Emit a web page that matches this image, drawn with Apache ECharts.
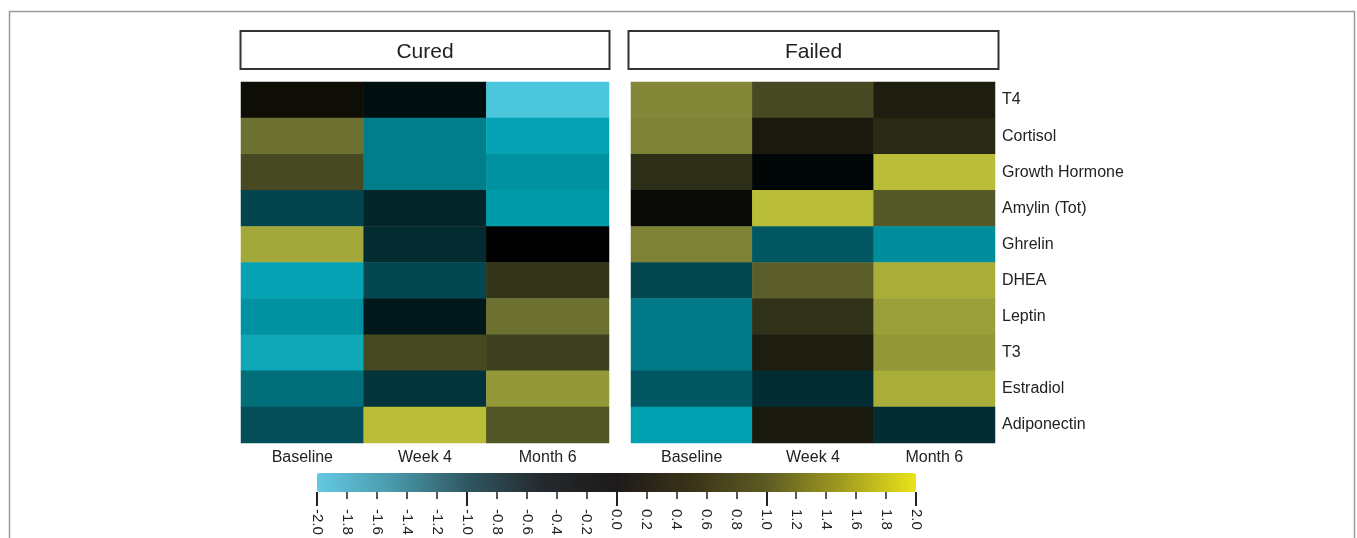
<!DOCTYPE html>
<html>
<head>
<meta charset="utf-8">
<script src="https://cdn.jsdelivr.net/npm/echarts@6/dist/echarts.min.js"></script>
<style>
  html, body { margin: 0; padding: 0; background: #fff; }
  #chart { width: 1357px; height: 538px; }
</style>
</head>
<body>
<div id="chart"></div>
<script>
// Hormone z-scores by timepoint, cured vs failed groups
const timepoints = ['Baseline', 'Week 4', 'Month 6'];
const hormones = ['T4', 'Cortisol', 'Growth Hormone', 'Amylin (Tot)', 'Ghrelin',
                  'DHEA', 'Leptin', 'T3', 'Estradiol', 'Adiponectin'];
const groups = ['Cured', 'Failed'];

// one row per hormone: [Baseline, Week 4, Month 6]
const curedValues = [
  [0.12, -0.15, -2.0],
  [1.0, -1.25, -1.62],
  [0.65, -1.25, -1.45],
  [-0.72, -0.38, -1.55],
  [1.6, -0.45, 0.0],
  [-1.62, -0.75, 0.45],
  [-1.45, -0.25, 1.0],
  [-1.68, 0.65, 0.55],
  [-1.1, -0.55, 1.4],
  [-0.82, 1.95, 0.78]
];
const failedValues = [
  [1.2, 0.65, 0.25],
  [1.15, 0.22, 0.35],
  [0.38, -0.05, 1.95],
  [0.08, 1.95, 0.8],
  [1.15, -0.9, -1.4],
  [-0.75, 0.85, 1.7],
  [-1.2, 0.42, 1.5],
  [-1.2, 0.25, 1.4],
  [-0.9, -0.47, 1.7],
  [-1.6, 0.22, -0.47]
];

const scaleMin = -2, scaleMax = 2;

const cellColors = ['#4cc6dc', '#00a0b0', '#007a86', '#034c56', '#03262b', '#000000',
                    '#2e3018', '#555828', '#838838', '#a2a83a', '#bcc038'];
const barColors = ['#63c9e2', '#4a9aab', '#2f5862', '#24292d', '#1e1a1a',
                   '#3a3318', '#5d5b22', '#a09b1f', '#ebe41a'];

function toCells(rows) {
  const out = [];
  rows.forEach((row, r) => row.forEach((v, c) => out.push([c, r, v])));
  return out;
}

const FONT = '"Liberation Sans", Arial, sans-serif';
const TXT = '#222';

const chart = echarts.init(document.getElementById('chart'), null, { renderer: 'canvas' });

const panelGrids = [
  { left: 241, top: 82, width: 368, height: 361 },
  { left: 631, top: 82, width: 364, height: 361 }
];

function stripBox(x, width, title) {
  return {
    type: 'group',
    children: [
      { type: 'rect', shape: { x: x, y: 31, width: width, height: 38 },
        style: { fill: '#fff', stroke: '#333', lineWidth: 2 } },
      { type: 'text', x: x + width / 2, y: 52,
        style: { text: title, font: '21px ' + FONT, fill: TXT, align: 'center', verticalAlign: 'middle' } }
    ]
  };
}

const option = {
  animation: false,
  backgroundColor: '#fff',
  textStyle: { fontFamily: FONT },
  grid: [
    panelGrids[0],
    panelGrids[1],
    { left: 317, top: 491, width: 599, height: 1 }
  ],
  xAxis: [
    { type: 'category', gridIndex: 0, data: timepoints, position: 'bottom',
      axisLine: { show: false }, axisTick: { show: false }, splitLine: { show: false },
      axisLabel: { fontSize: 16, color: TXT, margin: 7 } },
    { type: 'category', gridIndex: 1, data: timepoints, position: 'bottom',
      axisLine: { show: false }, axisTick: { show: false }, splitLine: { show: false },
      axisLabel: { fontSize: 16, color: TXT, margin: 7 } },
    { type: 'value', gridIndex: 2, min: scaleMin, max: scaleMax, interval: 0.2, position: 'bottom',
      offset: 4,
      axisLine: { show: false }, splitLine: { show: false },
      axisTick: { show: true, length: 7, lineStyle: { color: TXT, width: 1.5 } },
      axisLabel: { rotate: -90, fontSize: 15, color: TXT, margin: 13,
                   formatter: v => (+v).toFixed(1) } },
    { type: 'value', gridIndex: 2, min: scaleMin, max: scaleMax, interval: 1, position: 'bottom',
      axisLine: { show: false }, splitLine: { show: false },
      axisTick: { show: true, length: 14, lineStyle: { color: TXT, width: 2 } },
      axisLabel: { show: false } }
  ],
  yAxis: [
    { type: 'category', gridIndex: 0, data: hormones, inverse: true,
      axisLine: { show: false }, axisTick: { show: false }, splitLine: { show: false },
      axisLabel: { show: false } },
    { type: 'category', gridIndex: 1, data: hormones, inverse: true, position: 'right',
      axisLine: { show: false }, axisTick: { show: false }, splitLine: { show: false },
      axisLabel: { fontSize: 16, color: TXT, margin: 7 } },
    { type: 'value', gridIndex: 2, show: false }
  ],
  visualMap: [
    { type: 'continuous', show: false, min: scaleMin, max: scaleMax, seriesIndex: [0, 1],
      inRange: { color: cellColors } },
    { type: 'continuous', show: true, min: scaleMin, max: scaleMax, seriesIndex: [],
      orient: 'horizontal', left: 317, top: 473, itemWidth: 19, itemHeight: 599,
      padding: 0, text: null, calculable: false, hoverLink: false, showLabel: false,
      inRange: { color: barColors } }
  ],
  series: [
    { type: 'heatmap', name: groups[0], xAxisIndex: 0, yAxisIndex: 0,
      data: toCells(curedValues), itemStyle: { borderWidth: 0 }, emphasis: { disabled: true } },
    { type: 'heatmap', name: groups[1], xAxisIndex: 1, yAxisIndex: 1,
      data: toCells(failedValues), itemStyle: { borderWidth: 0 }, emphasis: { disabled: true } }
  ],
  graphic: [
    { type: 'rect', shape: { x: 9.5, y: 11.5, width: 1345, height: 600 },
      style: { fill: 'none', stroke: '#9a9a9a', lineWidth: 1.5 }, silent: true },
    stripBox(240.5, 369, groups[0]),
    stripBox(628.5, 370, groups[1])
  ]
};

chart.setOption(option);
</script>
</body>
</html>
